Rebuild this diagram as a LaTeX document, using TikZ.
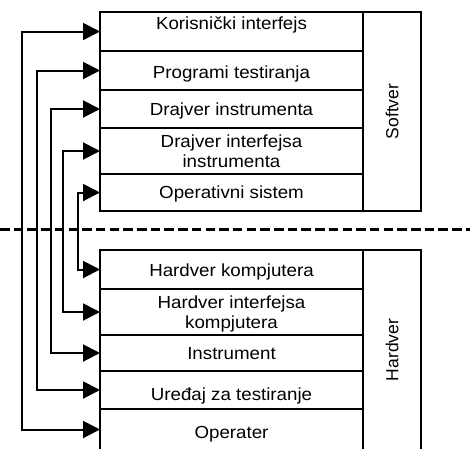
\documentclass[tikz,border=0pt]{standalone}
\usepackage{fontspec}
\setmainfont{Liberation Sans}
\newfontfamily\hfont[FakeStretch=1.07]{Liberation Sans}
\newfontfamily\vfont{Liberation Sans}
\usetikzlibrary{arrows.meta}
\begin{document}
\begin{tikzpicture}[x=1pt,y=-1pt,
  cell/.style={draw, line width=1.3pt, inner sep=0pt, outer sep=0pt, minimum width=263pt},
  side/.style={draw, line width=1.3pt, inner sep=0pt, outer sep=0pt, minimum width=58pt},
  txt/.style={font=\hfont\fontsize{17.5}{20.5}\selectfont, inner sep=0pt, anchor=base},
  vtxt/.style={font=\vfont\fontsize{17.5}{20.5}\selectfont, inner sep=0pt, rotate=90},
  frame/.style={line width=2.2pt},
  conn/.style={line width=2pt, {Triangle[length=17pt,width=17pt]}-{Triangle[length=17pt,width=17pt]}},
  sep/.style={line width=3pt, dash pattern=on 9.5pt off 4.2pt}
]
\useasboundingbox (0,0) rectangle (470,448);
\clip (0,0) rectangle (470,448);

% Software block
\node[cell, minimum height=39pt] (k)   at (231.5,31.5)  {};
\node[cell, minimum height=39pt] (pt)  at (231.5,70.5)  {};
\node[cell, minimum height=38pt] (di)  at (231.5,109)   {};
\node[cell, minimum height=46pt] (dii) at (231.5,151)   {};
\node[cell, minimum height=37pt] (os)  at (231.5,192.5) {};
\node[side, minimum height=199pt] (sw) at (392,111.5)   {};
\draw[frame] (k.north west) rectangle (sw.south east);

\node[txt] at (231.5,29.5)  {Korisnički interfejs};
\node[txt] at (231.5,78)    {Programi testiranja};
\node[txt] at (231.5,115.5) {Drajver instrumenta};
\node[txt] at (231.5,147.3) {\begin{tabular}[t]{@{}c@{}}Drajver interfejsa\\instrumenta\end{tabular}};
\node[txt] at (231.5,198.5) {Operativni sistem};
\node[vtxt] at (sw.center) {Softver};

% Hardware block
\node[cell, minimum height=39pt] (hk)  at (231.5,269.5) {};
\node[cell, minimum height=46pt] (hik) at (231.5,312)   {};
\node[cell, minimum height=36pt] (ins) at (231.5,353)   {};
\node[cell, minimum height=38pt] (ur)  at (231.5,390)   {};
\node[cell, minimum height=41pt] (op)  at (231.5,429.5) {};
\node[side, minimum height=200pt] (hw) at (392,350)     {};
\draw[frame] (hk.north west) rectangle (hw.south east);

\node[txt] at (231.5,276)   {Hardver kompjutera};
\node[txt] at (231.5,308.3) {\begin{tabular}[t]{@{}c@{}}Hardver interfejsa\\kompjutera\end{tabular}};
\node[txt] at (231.5,359)   {Instrument};
\node[txt] at (231.5,400)   {Uređaj za testiranje};
\node[txt] at (231.5,438)   {Operater};
\node[vtxt] at (hw.center) {Hardver};

% separator
\coordinate (sl) at (0,229.3);
\coordinate (sr) at (470,229.3);
\draw[sep] (sl) -- (sr);

% connectors
\coordinate (c1) at (22,0);
\coordinate (c2) at (37,0);
\coordinate (c3) at (51,0);
\coordinate (c4) at (63,0);
\coordinate (c5) at (78,0);
\draw[conn] (k.west)   -- (k.west -| c1)   |- (op.west);
\draw[conn] (pt.west)  -- (pt.west -| c2)  |- (ur.west);
\draw[conn] (di.west)  -- (di.west -| c3)  |- (ins.west);
\draw[conn] (dii.west) -- (dii.west -| c4) |- (hik.west);
\draw[conn] (os.west)  -- (os.west -| c5)  |- (hk.west);
\end{tikzpicture}
\end{document}
